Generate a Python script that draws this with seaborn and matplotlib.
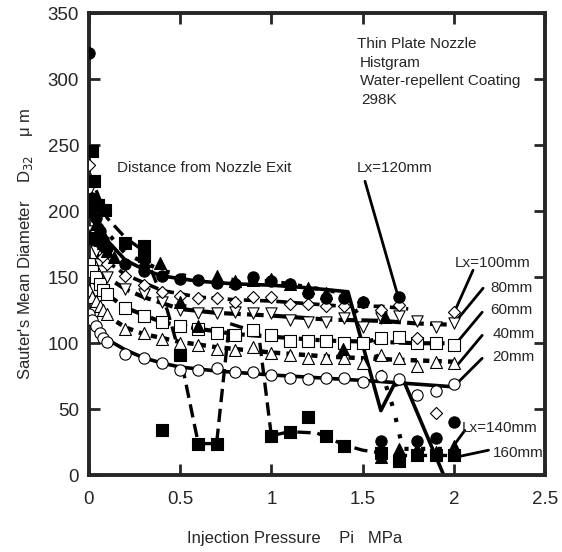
import numpy as np
import pandas as pd
import seaborn as sns
import matplotlib
matplotlib.use('Agg')
import matplotlib.pyplot as plt

# measured points, Lx = 20 ... 100 mm share the same pressures
P = [0.0, 0.02, 0.04, 0.06, 0.08, 0.1, 0.2, 0.3, 0.4, 0.5, 0.6, 0.7, 0.8,
     0.9, 1.0, 1.1, 1.2, 1.3, 1.4, 1.5, 1.6, 1.7, 1.8, 1.9, 2.0]
d20 = [122, 118, 113, 108, 104, 101, 92, 89, 85, 80, 79.5, 81, 78, 78, 76,
       74, 73, 73.5, 74, 71, 75, 73, 61, 64, 69]
d40 = [140, 135, 132, 128, 125, 122, 111, 107.5, 103, 100, 98.5, 96, 95, 97,
       93, 91, 89, 89, 89, 85, 91, 89, 83, 86, 85]
d60 = [160, 155, 150, 145, 140, 137, 127, 121, 116, 113, 111, 108, 106, 110,
       106, 102, 102, 102, 100, 100, 104, 105, 100, 100, 99]
d80 = [215, 185, 170, 160, 155, 150, 141, 137, 131, 125, 122.7, 123, 124,
       123, 123, 118, 116, 116, 119, 112, 119, 121, 117, 112, 115]
d100 = [235, 200, 185, 175, 165, 160, 151, 144, 139, 136, 134, 134, 131, 135,
        135, 130, 130, 128, 128, 131, 125, 129, 104, 47, 124]

P120 = [0.0, 0.02, 0.04, 0.06, 0.08, 0.1, 0.2, 0.3, 0.4, 0.5, 0.6, 0.7, 0.8,
        0.9, 1.0, 1.1, 1.2, 1.3, 1.4, 1.5, 1.6, 1.7, 1.8, 1.9, 2.0]
d120 = [320, 210, 195, 185, 178, 172, 160, 155, 151, 149, 148, 146, 145, 150,
        147, 145, 138, 134, 134, 131, 26, 135, 26, 28, 40]

P140 = [0.0, 0.02, 0.04, 0.06, 0.08, 0.1, 0.14, 0.3, 0.39, 0.5, 0.6, 0.7,
        0.8, 0.9, 1.0, 1.1, 1.2, 1.3, 1.39, 1.62, 1.6, 1.7, 1.8, 1.9, 2.0]
d140 = [205, 200, 190, 182, 176, 170, 165, 162, 161, 131, 113, 151, 147, 148,
        149, 145, 142, 138, 96, 120, 14, 20, 20, 18, 22]

P160 = [0.0, 0.02, 0.03, 0.05, 0.06, 0.09, 0.2, 0.3, 0.3, 0.4, 0.5, 0.6, 0.7,
        1.0, 1.1, 1.2, 1.3, 1.4, 1.6, 1.7, 1.8, 1.9, 2.0]
d160 = [180, 246, 223, 205, 178, 201, 176, 174, 166, 34, 91, 24, 24, 30, 33,
        44, 30, 22, 17, 11, 15, 15, 15]

# fitted curves
f20_x = [0.02, 0.1, 0.2, 0.3, 0.4, 0.5, 0.7, 1.0, 1.3, 1.6, 1.8, 2.0]
f20_y = [112, 103, 95, 89, 85, 82, 79, 76, 73.5, 71, 69, 67]
f40_x = [0.0, 0.1, 0.2, 0.3, 0.5, 0.7, 1.0, 1.3, 1.6, 1.8, 2.0]
f40_y = [135, 121, 112, 107, 101, 97, 93, 90, 88, 87, 86]
f60_x = [0.0, 0.1, 0.2, 0.4, 0.6, 0.8, 1.0, 1.3, 1.6, 1.8, 2.0]
f60_y = [150, 137, 127, 116, 111, 107, 105, 102, 101, 100, 100]
f80_x = [0.02, 0.1, 0.2, 0.3, 0.5, 0.7, 1.0, 1.3, 1.6, 1.8, 2.0]
f80_y = [175, 150, 141, 135, 126, 123, 121, 118, 117, 115, 114]
f100_x = [0.02, 0.1, 0.2, 0.4, 0.6, 0.8, 1.0, 1.2, 1.4, 1.6, 1.75]
f100_y = [185, 162, 152, 140, 135, 133, 132, 130, 128, 128, 126]
f120_x = [0.02, 0.05, 0.1, 0.2, 0.3, 0.4, 0.6, 0.8, 1.0, 1.2, 1.42, 1.6,
          1.67, 1.73, 1.96]
f120_y = [205, 190, 178, 163, 156, 151, 147, 145, 144, 142, 139, 49, 68,
          70, -5]
f140_x = [0.0, 0.2, 0.4, 0.6, 1.0, 1.4, 1.53, 1.67, 1.72, 1.8, 2.0]
f140_y = [200, 168, 155, 149, 147, 138, 110, 50, 20, 20, 20]
f160_x = [0.0, 0.1, 0.2, 0.3, 0.43, 0.5, 0.6, 0.7, 0.77, 0.93, 1.0, 1.1,
          1.25, 1.4, 1.5, 1.6, 1.7, 1.8, 2.0]
f160_y = [230, 195, 180, 170, 125, 91, 24, 24, 115, 108, 30, 33, 32, 23, 19,
          17, 15, 15, 15]

# label texts and leader lines (text x, y, line from -> to)
labels = ['Lx=100mm', '80mm', '60mm', '40mm', '20mm', 'Lx=140mm', '160mm']
label_x = [2.006, 2.198, 2.198, 2.21, 2.21, 2.045, 2.215]
label_y = [161, 141.7, 125, 107, 89.4, 35.6, 16.7]
lead_x0 = [2.105, 2.16, 2.155, 2.155, 2.155, 2.06, 2.19]
lead_y0 = [155.3, 141.7, 123.5, 106, 88.6, 34, 19]
lead_x1 = [2.007, 2.007, 2.018, 2.018, 2.018, 2.007, 2.034]
lead_y1 = [125, 116, 100.8, 83.3, 69.7, 24, 14.4]

sns.set_style('ticks')
plt.rcParams['font.family'] = ['Liberation Sans', 'DejaVu Sans']

fig = plt.figure(figsize=(5.62, 5.52), dpi=100)
ax = fig.add_axes([0.158, 0.139, 0.812, 0.837])

fits = [
    (f20_x, f20_y, '-', 2.6),
    (f40_x, f40_y, (0, (1.4, 1.4)), 3.2),
    (f60_x, f60_y, (0, (3, 1, 1, 1)), 3.0),
    (f80_x, f80_y, (0, (4, 1.5)), 3.0),
    (f100_x, f100_y, (0, (3, 1.5)), 2.6),
    (f120_x, f120_y, '-', 2.6),
    (f140_x, f140_y, (0, (1, 3)), 3.0),
    (f160_x, f160_y, (0, (4, 2)), 2.4),
]
for fx, fy, ls, lw in fits:
    sns.lineplot(x=fx, y=fy, ax=ax, color='black', linestyle=ls,
                 linewidth=lw, sort=False, zorder=2)

series = [
    (P, d20, 'o', 'white', 66),
    (P, d40, '^', 'white', 74),
    (P, d60, 's', 'white', 64),
    (P, d80, 'v', 'white', 66),
    (P, d100, 'D', 'white', 38),
    (P120, d120, 'o', 'black', 66),
    (P140, d140, '^', 'black', 74),
    (P160, d160, 's', 'black', 64),
]
for sx, sy, m, fc, s in series:
    sns.scatterplot(x=sx, y=sy, ax=ax, marker=m, s=s, facecolor=fc,
                    edgecolor='black', linewidth=0.8, zorder=3, clip_on=True)

ax.set_xlim(0, 2.5)
ax.set_ylim(0, 350)
ax.set_xticks([0, 0.5, 1, 1.5, 2, 2.5])
ax.set_xticklabels(['0', '0.5', '1', '1.5', '2', '2.5'])
ax.set_yticks(range(0, 351, 50))
ax.tick_params(direction='in', length=8, width=2, top=True, right=True,
               labelsize=13.5)
ax.tick_params(axis='x', pad=11)
ax.tick_params(axis='y', pad=7)
for sp in ax.spines.values():
    sp.set_linewidth(2.8)
    sp.set_visible(True)

ax.set_xlabel('Injection Pressure    Pi   MPa', fontsize=12)
ax.xaxis.set_label_coords(0.45, -0.12)
ax.set_ylabel("Sauter's Mean Diameter    D$_{32}$    \u03bc m", fontsize=12,
              labelpad=9)

fs = 11
ax.text(1.47, 327, 'Thin Plate Nozzle', fontsize=fs, va='center')
ax.text(1.486, 312, 'Histgram', fontsize=fs, va='center')
ax.text(1.486, 299, 'Water-repellent Coating', fontsize=fs, va='center')
ax.text(1.495, 284, '298K', fontsize=fs, va='center')
ax.text(0.153, 233, 'Distance from Nozzle Exit', fontsize=fs, va='center')
ax.text(1.47, 233, 'Lx=120mm', fontsize=fs, va='center')
ax.plot([1.513, 1.694], [222.7, 135.6], color='black', lw=2)

for t, tx, ty, x0, y0, x1, y1 in zip(labels, label_x, label_y, lead_x0,
                                       lead_y0, lead_x1, lead_y1):
    ax.text(tx, ty, t, fontsize=fs, va='center', clip_on=False)
    ax.plot([x0, x1], [y0, y1], color='black', lw=2)

fig.savefig('out.png', dpi=100)
